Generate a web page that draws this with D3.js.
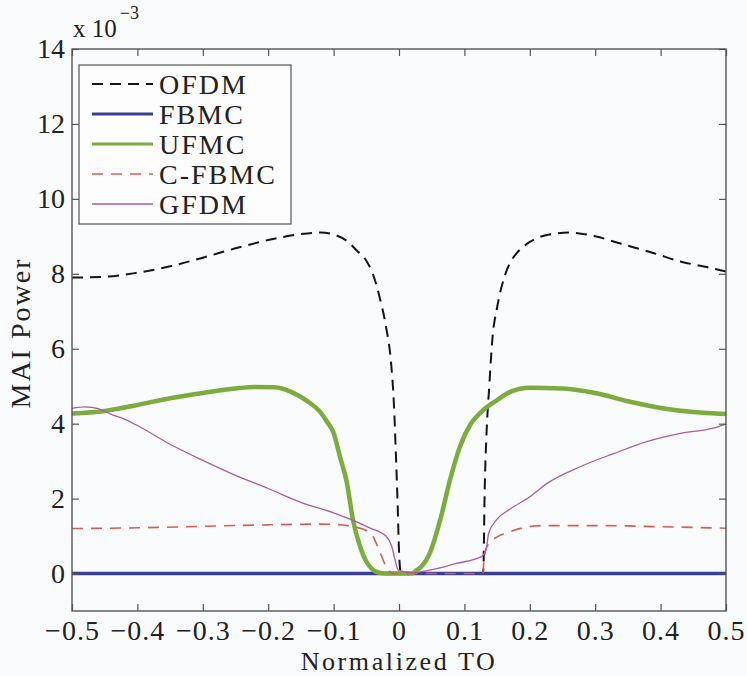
<!DOCTYPE html>
<html>
<head>
<meta charset="utf-8">
<script src="https://cdn.jsdelivr.net/npm/d3@7"></script>
<style>
  html, body { margin: 0; padding: 0; background: #fafbfc; }
  svg { display: block; }
  text { font-family: "Times New Roman", "Liberation Serif", Tinos, Times, serif; fill: #222; }
</style>
</head>
<body>
<svg id="chart" width="747" height="676"></svg>
<script>
// Normalized timing offset (TO) vs. multiple-access interference power (x 10^-3)

const ofdmTO  = [-0.5,-0.45,-0.4,-0.35,-0.3,-0.25,-0.2,-0.15,-0.12,-0.1,-0.08,-0.065,-0.05,-0.04,-0.03,-0.02,-0.012,-0.008,-0.005,-0.002,0.0,0.003,0.05,0.1,0.128,0.129,0.131,0.134,0.138,0.143,0.15,0.16,0.17,0.18,0.19,0.2,0.23,0.26,0.3,0.34,0.39,0.43,0.47,0.5];
const ofdmMAI = [7.9,7.92,8.03,8.2,8.43,8.68,8.9,9.06,9.1,9.05,8.88,8.63,8.35,8.0,7.4,6.6,5.6,4.6,3.3,1.8,0.6,0.0,0.0,0.0,0.0,0.1,2.2,3.8,5.0,6.3,7.1,7.85,8.3,8.55,8.72,8.85,9.05,9.1,9.0,8.8,8.55,8.33,8.18,8.06];

const fbmcTO  = [-0.5,0.5];
const fbmcMAI = [0,0];

const ufmcTO  = [-0.5,-0.45,-0.4,-0.35,-0.3,-0.25,-0.22,-0.19,-0.165,-0.14,-0.12,-0.11,-0.1,-0.09,-0.08,-0.07,-0.06,-0.05,-0.04,-0.03,-0.02,0.02,0.027,0.035,0.047,0.063,0.078,0.093,0.11,0.125,0.15,0.17,0.2,0.25,0.3,0.35,0.4,0.45,0.5];
const ufmcMAI = [4.27,4.34,4.5,4.68,4.82,4.94,4.98,4.97,4.85,4.6,4.3,4.05,3.75,3.1,2.45,1.4,0.75,0.32,0.1,0.02,0,0,0.09,0.2,0.54,1.43,2.5,3.38,4.0,4.3,4.63,4.85,4.96,4.94,4.82,4.6,4.42,4.31,4.26];

const cfbmcTO  = [-0.5,-0.4,-0.3,-0.2,-0.12,-0.09,-0.07,-0.05,-0.04,-0.03,-0.02,-0.01,0.128,0.13,0.133,0.14,0.15,0.17,0.19,0.22,0.3,0.4,0.5];
const cfbmcMAI = [1.2,1.22,1.26,1.3,1.32,1.3,1.25,1.15,1.0,0.6,0.2,0,0,0.35,0.65,0.85,0.98,1.12,1.22,1.28,1.28,1.25,1.21];

const gfdmTO  = [-0.5,-0.48,-0.46,-0.44,-0.42,-0.4,-0.35,-0.3,-0.25,-0.2,-0.15,-0.1,-0.07,-0.045,-0.02,-0.011,-0.006,-0.001,0.02,0.047,0.088,0.126,0.134,0.137,0.15,0.17,0.2,0.226,0.277,0.328,0.379,0.43,0.48,0.5];
const gfdmMAI = [4.41,4.45,4.4,4.25,4.12,3.95,3.45,3.02,2.62,2.27,1.9,1.62,1.42,1.22,1.0,0.72,0.36,0.09,0.02,0.09,0.27,0.45,0.72,1.07,1.45,1.72,2.05,2.4,2.85,3.2,3.52,3.74,3.88,3.99];

const xTicks = [-0.5,-0.4,-0.3,-0.2,-0.1,0,0.1,0.2,0.3,0.4,0.5];
const yTicks = [0,2,4,6,8,10,12,14];
const seriesNames = ["OFDM","FBMC","UFMC","C-FBMC","GFDM"];

const styles = {
  "OFDM":   { color: "#151515", width: 2,   dash: "11,7" },
  "FBMC":   { color: "#3b3f92", width: 3.5, dash: null },
  "UFMC":   { color: "#7dac3e", width: 4.5, dash: null },
  "C-FBMC": { color: "#d6604f", width: 1.6, dash: "11,8" },
  "GFDM":   { color: "#ab5d9c", width: 1.3, dash: null }
};

const series = [
  { name: "OFDM",   x: ofdmTO,  y: ofdmMAI },
  { name: "FBMC",   x: fbmcTO,  y: fbmcMAI },
  { name: "UFMC",   x: ufmcTO,  y: ufmcMAI },
  { name: "C-FBMC", x: cfbmcTO, y: cfbmcMAI },
  { name: "GFDM",   x: gfdmTO,  y: gfdmMAI }
];

const L = 72, R = 726, T = 49, B = 611;
const svg = d3.select("#chart");
const x = d3.scaleLinear().domain([-0.5, 0.5]).range([L, R]);
const y = d3.scaleLinear().domain([-1, 14]).range([B, T]);

const fmt = v => (v < 0 ? "\u2212" + String(Math.abs(v)) : String(v));
const tickLen = 7;
const fontSize = 28;
const serif = "'Times New Roman', 'Liberation Serif', Tinos, Times, serif";

// curves
const line = d3.line()
  .x(d => x(d[0]))
  .y(d => y(d[1]))
  .curve(d3.curveMonotoneX);

const plot = svg.append("g");
series.forEach(s => {
  const st = styles[s.name];
  plot.append("path")
    .datum(s.x.map((v, i) => [v, s.y[i]]))
    .attr("d", line)
    .attr("fill", "none")
    .attr("stroke", st.color)
    .attr("stroke-width", st.width)
    .attr("stroke-dasharray", st.dash)
    .attr("stroke-linejoin", "round");
});

// axes: inward ticks on all four sides, labels on bottom and left
const axisColor = "#555";
const axBottom = svg.append("g").attr("transform", `translate(0,${B})`)
  .call(d3.axisBottom(x).tickValues(xTicks).tickSize(-tickLen).tickPadding(9).tickFormat(fmt));
const axTop = svg.append("g").attr("transform", `translate(0,${T})`)
  .call(d3.axisTop(x).tickValues(xTicks).tickSize(-tickLen).tickFormat(""));
const axLeft = svg.append("g").attr("transform", `translate(${L},0)`)
  .call(d3.axisLeft(y).tickValues(yTicks).tickSize(-tickLen).tickPadding(7).tickFormat(d3.format("d")));
const axRight = svg.append("g").attr("transform", `translate(${R},0)`)
  .call(d3.axisRight(y).tickValues(yTicks).tickSize(-tickLen).tickFormat(""));

[axBottom, axTop, axLeft, axRight].forEach(g => {
  g.attr("font-family", serif);
  g.select(".domain").remove();
  g.selectAll(".tick line").attr("stroke", axisColor).attr("stroke-width", 1.2);
  g.selectAll(".tick text")
    .attr("font-size", fontSize)
    .attr("fill", "#222")
    .style("font-family", serif);
});
axBottom.selectAll(".tick text").attr("letter-spacing", "1px");

svg.append("rect")
  .attr("x", L).attr("y", T)
  .attr("width", R - L).attr("height", B - T)
  .attr("fill", "none").attr("stroke", axisColor).attr("stroke-width", 1.4);

// axis titles
svg.append("text")
  .attr("x", (L + R) / 2).attr("y", 670)
  .attr("text-anchor", "middle")
  .attr("font-size", 26)
  .attr("letter-spacing", "2.6px")
  .text("Normalized TO");

svg.append("text")
  .attr("transform", `translate(30,${(T + B) / 2 + 3}) rotate(-90)`)
  .attr("text-anchor", "middle")
  .attr("font-size", fontSize)
  .attr("letter-spacing", "2px")
  .text("MAI Power");

// exponent marker
const expo = svg.append("text").attr("x", 73).attr("y", 37).attr("font-size", 25);
expo.append("tspan").text("x 10");
expo.append("tspan").attr("dy", -18).attr("dx", 3).attr("font-size", 18).text("\u22123");

// legend
const lg = svg.append("g");
lg.append("rect")
  .attr("x", 79).attr("y", 65).attr("width", 212).attr("height", 159)
  .attr("fill", "#fdfdfd").attr("stroke", axisColor).attr("stroke-width", 1.2);
seriesNames.forEach((name, i) => {
  const st = styles[name];
  const cy = 84 + i * 30;
  lg.append("line")
    .attr("x1", 92).attr("x2", 153).attr("y1", cy).attr("y2", cy)
    .attr("stroke", st.color)
    .attr("stroke-width", Math.min(st.width, 3))
    .attr("stroke-dasharray", st.dash);
  lg.append("text")
    .attr("x", 159).attr("y", cy + 10)
    .attr("font-size", fontSize)
    .attr("letter-spacing", "2px")
    .text(name);
});
</script>
</body>
</html>
